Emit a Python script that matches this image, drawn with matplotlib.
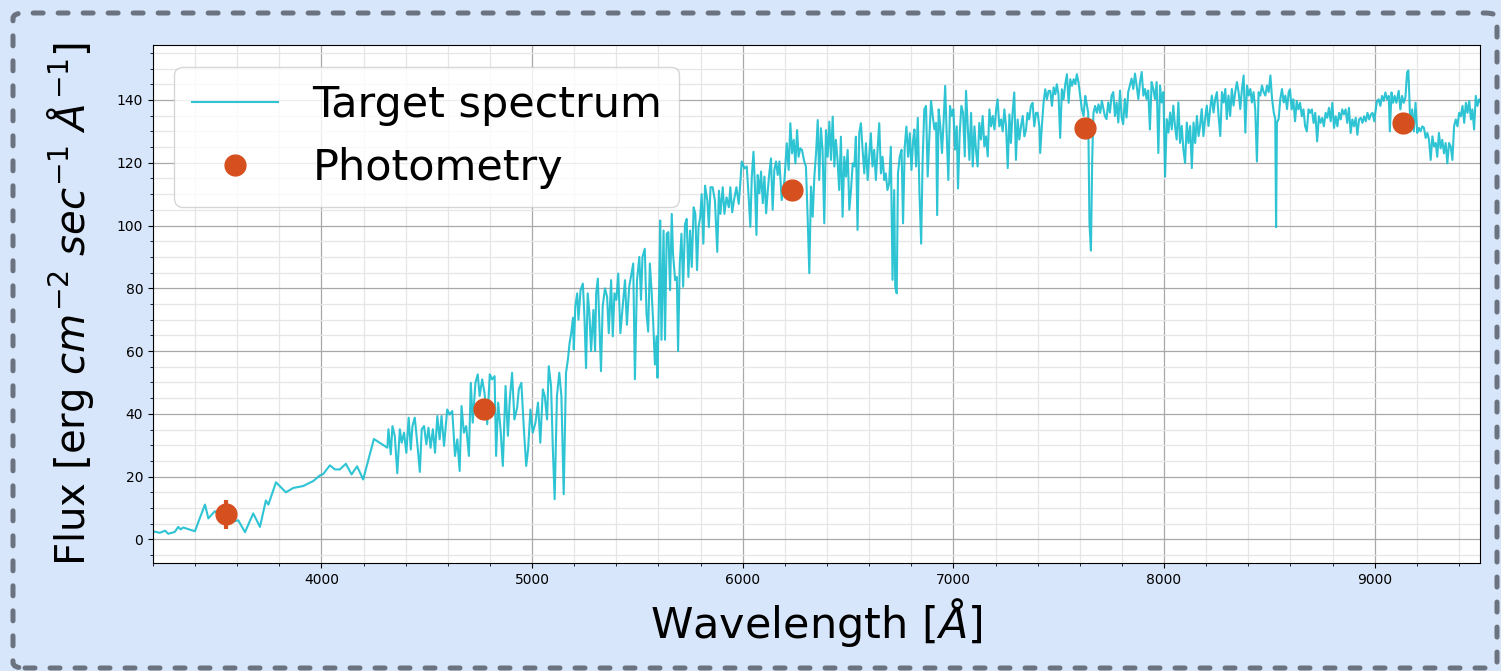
import matplotlib
matplotlib.use("Agg")
import matplotlib.pyplot as plt
from matplotlib.patches import FancyBboxPatch
from matplotlib.ticker import MultipleLocator
import numpy as np

# spectrum (wavelength in Angstrom, flux)
wave = [
    3200, 3233, 3257, 3273, 3304, 3320, 3331, 3344, 3399, 3447, 3463, 3494, 3530, 3570, 3605, 3637,
    3676, 3708, 3736, 3748, 3784, 3831, 3866, 3913, 3961, 3993, 4008, 4040, 4064, 4087, 4116, 4143,
    4169, 4198, 4249, 4313,
    4318, 4329, 4337, 4348, 4360, 4372, 4381, 4392, 4403, 4414, 4424, 4432, 4443, 4456, 4467, 4476,
    4487, 4498, 4508, 4518, 4529, 4539, 4550, 4561, 4570, 4582, 4597, 4608, 4621, 4634, 4645, 4656,
    4665, 4676, 4687, 4700, 4709, 4718, 4731, 4742, 4751, 4763, 4774, 4787, 4799, 4810, 4822, 4829,
    4839, 4850, 4861, 4874, 4885, 4894, 4905, 4916, 4929, 4937, 4949, 4961, 4972, 4981, 4992, 5003,
    5016, 5028, 5039, 5051, 5060, 5071, 5079, 5090, 5098, 5107, 5118, 5129, 5139, 5150, 5161,
    5170, 5178, 5186, 5194, 5198, 5205, 5214, 5220, 5230, 5241, 5249, 5256, 5264, 5272, 5280, 5291,
    5299, 5304, 5312, 5320, 5327, 5335, 5346, 5356, 5364, 5375, 5383, 5391, 5400, 5409, 5419, 5430,
    5441, 5450, 5461, 5469, 5480, 5488, 5498, 5509, 5517, 5524, 5535, 5543, 5551, 5559, 5567, 5575,
    5583, 5591, 5595, 5603, 5608, 5614, 5624, 5631, 5639, 5647, 5655, 5663, 5669, 5679, 5687, 5693,
    5701, 5709, 5717, 5726, 5734, 5742, 5750, 5758, 5767, 5775, 5783, 5790, 5798, 5805, 5813, 5821,
    5832, 5839, 5847, 5857, 5868, 5879, 5887, 5894, 5905, 5913, 5923, 5934, 5941, 5950, 5958, 5970,
    5981, 5989,
    5995, 6008, 6019, 6027, 6036, 6043, 6051, 6058, 6065, 6071, 6079, 6087, 6095, 6103, 6111, 6119,
    6126, 6134, 6142, 6150, 6158, 6166, 6174, 6185, 6198, 6209, 6218, 6226, 6234, 6242, 6250, 6258,
    6265, 6273, 6281, 6292, 6300, 6308, 6316, 6324, 6332, 6340, 6348, 6356, 6363, 6371, 6379, 6387,
    6395, 6403, 6411, 6419, 6427, 6435, 6442, 6450, 6458, 6466, 6474, 6482, 6490, 6498, 6506, 6514,
    6522, 6530, 6537, 6545, 6553, 6561, 6569, 6577, 6585, 6593, 6600, 6608, 6616, 6624, 6632, 6640,
    6648, 6656, 6664, 6672, 6679, 6687, 6695, 6703, 6711, 6719, 6724, 6731, 6737, 6745, 6754, 6761,
    6769, 6777, 6785, 6793, 6801, 6809,
    6815, 6823, 6831, 6839, 6847, 6854, 6862, 6870, 6878, 6886, 6894, 6902, 6910, 6918, 6923, 6930,
    6938, 6946, 6954, 6961, 6968, 6976, 6984, 6992, 7000, 7008, 7016, 7022, 7030, 7038, 7046, 7054,
    7060, 7068, 7076, 7084, 7092, 7100, 7107, 7115, 7123, 7131, 7139, 7147, 7155, 7163, 7171, 7179,
    7187, 7195, 7203, 7210, 7218, 7226, 7234, 7242, 7250, 7258, 7266, 7273, 7281, 7289, 7297, 7305,
    7313, 7321, 7329, 7337, 7345, 7352, 7360, 7368, 7376, 7384, 7392, 7400, 7408, 7412, 7420, 7428,
    7436, 7444, 7452, 7460, 7468, 7476, 7484, 7491, 7499, 7507, 7515, 7523, 7531, 7539, 7547, 7555,
    7563, 7571, 7579, 7586, 7594, 7602, 7610, 7618, 7626, 7632, 7640, 7646, 7653, 7659, 7665, 7673,
    7681, 7689, 7697, 7705, 7713,
    7719, 7727, 7735, 7743, 7751, 7759, 7767, 7775, 7783, 7791, 7799, 7806, 7814, 7822, 7830, 7838,
    7846, 7854, 7862, 7870, 7878, 7886, 7894, 7902, 7910, 7917, 7925, 7933, 7941, 7949, 7957, 7965,
    7973, 7981, 7989, 7997, 8005, 8013, 8021, 8029, 8037, 8044, 8052, 8060, 8068, 8076, 8084, 8092,
    8100, 8108, 8116, 8124, 8132, 8140, 8148, 8156, 8164, 8171, 8179, 8187, 8195, 8203, 8211, 8219,
    8227, 8235, 8243, 8251, 8259, 8267, 8275, 8283, 8291, 8298, 8306, 8314, 8322, 8330, 8338, 8346,
    8354, 8362, 8370, 8378, 8386, 8394, 8402, 8410, 8417, 8425, 8433, 8441, 8449, 8457, 8465, 8473,
    8481, 8489, 8497, 8505, 8513, 8521, 8528, 8532, 8536, 8544, 8552, 8560, 8568, 8576, 8584, 8592,
    8598, 8606, 8614, 8622, 8630, 8638, 8646, 8654, 8662, 8670, 8678, 8686, 8694, 8702, 8710, 8718,
    8727, 8735, 8743, 8751, 8759, 8767, 8775, 8783, 8791, 8799, 8807, 8815, 8823, 8831, 8839, 8846,
    8854, 8862, 8870, 8878, 8886, 8894, 8902, 8910, 8918, 8926, 8934, 8942, 8950, 8958, 8966, 8974,
    8982, 8990, 8998, 9003, 9011, 9019, 9027, 9035, 9043, 9051, 9059, 9067, 9072, 9080, 9087, 9095,
    9103, 9114, 9122, 9130, 9138, 9146, 9154, 9160, 9165, 9170, 9178, 9186, 9194, 9202, 9210, 9218,
    9226, 9234, 9242, 9250, 9258, 9266, 9274, 9282, 9290, 9297, 9305, 9313, 9321, 9329, 9337, 9345,
    9353, 9361, 9369, 9377, 9385, 9393, 9401, 9409, 9417, 9425, 9433, 9441, 9449, 9457, 9464, 9472,
    9480, 9488, 9496, 9504,
]
flux = [
    2.6, 2.1, 2.8, 1.8, 2.4, 4.0, 3.2, 3.8, 2.6, 11.1, 6.7, 9.0, 7.0, 5.5, 6.1, 2.3,
    8.3, 4.0, 12.4, 11.1, 18.2, 15.0, 16.4, 17.0, 18.6, 20.4, 20.8, 23.6, 22.3, 22.3, 24.1, 20.7,
    23.3, 19.1, 32.0, 29.2,
    35.1, 27.1, 36.1, 33.0, 21.1, 35.1, 30.8, 34.0, 27.6, 38.8, 28.6, 36.1, 38.8, 29.8, 21.5, 35.1,
    36.1, 30.3, 35.6, 29.2, 35.1, 27.6, 39.3, 31.9, 39.3, 29.8, 41.4, 39.8, 40.9, 26.6, 31.9, 21.8,
    42.5, 34.0, 36.1, 26.6, 49.9, 37.2, 49.9, 52.6, 45.7, 51.0, 46.7, 36.7, 52.6, 51.0, 52.0, 26.6,
    43.6, 35.1, 23.4, 48.9, 33.0, 44.6, 53.1, 38.2, 42.0, 47.8, 49.9, 35.1, 23.4, 28.7, 41.4, 34.0,
    37.2, 43.6, 30.8, 47.8, 45.7, 38.2, 55.2, 48.9, 29.8, 12.8, 45.7, 53.1, 45.7, 14.4, 53.1,
    57.3, 62.6, 65.8, 70.6, 60.5, 74.2, 78.4, 70.0, 79.4, 81.5, 69.9, 54.6, 78.4, 72.0, 60.0, 73.1,
    60.0, 78.4, 83.1, 67.8, 53.6, 74.2, 80.0, 77.3, 65.7, 82.6, 64.7, 78.4, 76.3, 84.7, 65.7, 74.2,
    82.6, 68.4, 80.5, 83.6, 87.9, 51.0, 82.6, 90.0, 76.3, 90.0, 92.6, 72.0, 66.2, 87.9, 79.4, 68.9,
    55.7, 64.7, 51.5, 79.4, 101.6, 63.6, 98.4, 63.6, 97.4, 97.9, 79.4, 103.7, 91.0, 82.6, 83.6, 60.0,
    87.9, 97.4, 80.5, 100.5, 102.1, 83.6, 98.4, 86.8, 105.8, 103.7, 85.8, 99.5, 102.6, 110.0, 94.2, 112.7,
    107.9, 99.5, 112.2, 112.2, 107.9, 91.6, 111.1, 103.7, 112.2, 103.7, 109.0, 105.8, 112.2, 104.2, 107.9, 112.2,
    106.9, 114.0,
    120.4, 118.2, 118.8, 110.3, 99.6, 115.6, 123.5, 112.4, 97.0, 116.1, 110.3, 117.2, 107.1, 115.6, 103.9, 111.3,
    116.6, 121.4, 105.0, 117.7, 120.4, 116.1, 120.4, 108.1, 114.5, 126.2, 117.7, 132.6, 123.0, 127.3, 119.8, 130.4,
    121.9, 124.6, 124.1, 120.4, 118.8, 102.8, 84.8, 112.4, 102.8, 115.6, 123.0, 133.6, 114.5, 131.0, 124.1, 100.7,
    130.4, 121.9, 133.1, 120.9, 134.7, 118.8, 127.3, 120.9, 111.3, 128.3, 102.8, 121.9, 115.6, 124.1, 105.0, 111.3,
    119.8, 118.8, 128.3, 98.6, 129.4, 132.6, 124.1, 116.6, 126.2, 114.5, 121.9, 129.4, 118.8, 124.1, 114.5, 124.1,
    132.6, 116.6, 121.9, 114.5, 116.6, 111.3, 113.4, 125.1, 82.7, 111.3, 80.5, 78.4, 116.6, 121.9, 124.1, 100.7,
    125.1, 131.5, 121.9, 129.4, 117.7, 127.3,
    130.6, 118.8, 134.3, 110.2, 94.2, 120.9, 137.0, 138.1, 115.6, 128.4, 139.7, 134.9, 130.6, 132.7, 103.3, 137.0,
    131.6, 123.1, 133.8, 144.5, 129.5, 114.5, 138.1, 134.9, 137.0, 124.2, 131.6, 111.8, 129.5, 138.1, 135.9, 122.0,
    142.9, 131.6, 120.9, 135.9, 118.8, 131.6, 124.2, 118.8, 132.7, 127.4, 134.9, 125.2, 128.4, 122.0, 137.0, 131.6,
    134.9, 130.6, 137.0, 140.2, 131.6, 133.8, 130.0, 137.0, 131.6, 118.3, 135.4, 126.3, 135.9, 142.4, 120.9, 133.8,
    127.4, 131.6, 134.9, 128.4, 130.6, 135.9, 133.8, 138.1, 139.1, 131.6, 135.9, 135.9, 131.6, 123.1, 131.6, 139.1,
    143.4, 140.2, 142.9, 142.9, 138.1, 144.0, 141.8, 145.0, 141.8, 127.9, 143.4, 140.2, 145.0, 148.2, 139.1, 146.6,
    144.5, 146.6, 145.0, 148.2, 145.6, 141.3, 137.0, 134.9, 141.3, 139.1, 135.9, 100.6, 92.0, 120.9, 135.9, 138.1,
    135.9, 138.6, 135.9, 139.7, 137.0,
    134.9, 133.9, 139.2, 136.0, 141.4, 142.5, 134.9, 139.2, 132.8, 143.0, 134.4, 132.3, 140.3, 134.4, 142.5, 144.6,
    146.8, 143.5, 148.4, 144.6, 140.3, 145.7, 148.9, 141.4, 143.5, 140.3, 143.0, 130.6, 145.7, 143.5, 140.3, 145.7,
    123.1, 144.6, 139.2, 142.5, 115.6, 133.9, 129.6, 136.0, 130.6, 138.2, 131.7, 127.4, 139.2, 126.3, 131.7, 124.2,
    119.9, 132.8, 126.3, 131.7, 118.3, 132.8, 126.3, 134.9, 128.5, 131.7, 137.1, 128.5, 133.9, 138.2, 131.7, 137.1,
    141.4, 136.0, 140.3, 142.5, 134.9, 128.5, 142.5, 139.2, 143.5, 133.9, 141.4, 134.9, 143.5, 138.2, 142.5, 145.7,
    142.5, 137.1, 143.5, 147.8, 129.6, 144.6, 141.4, 143.5, 139.2, 142.5, 137.1, 120.4, 142.5, 141.4, 144.6, 142.5,
    141.4, 144.6, 142.5, 147.8, 140.3, 136.0, 133.9, 99.5, 132.8, 133.9, 140.3, 143.5, 139.2, 141.4, 137.1, 142.5,
    143.4, 137.0, 140.2, 133.2, 139.7, 137.0, 139.1, 134.8, 137.0, 131.6, 130.0, 137.0, 135.9, 137.0, 132.7, 135.9,
    126.8, 134.8, 132.7, 134.3, 131.6, 135.9, 134.3, 137.5, 133.2, 139.1, 131.1, 134.8, 131.6, 135.9, 133.8, 137.0,
    135.4, 137.0, 132.7, 137.5, 129.5, 133.8, 131.6, 134.3, 128.9, 133.8, 134.3, 132.7, 134.8, 133.2, 135.9, 133.8,
    135.4, 135.9, 133.2, 135.9, 139.7, 140.2, 138.1, 141.3, 139.7, 142.4, 140.2, 141.3, 130.0, 142.4, 139.1, 141.3,
    139.1, 142.9, 137.0, 141.3, 139.1, 140.8, 148.8, 149.4, 140.2, 130.0, 137.0, 130.0, 139.1, 129.5, 131.1, 130.0,
    131.6, 131.1, 127.9, 129.5, 127.3, 120.9, 128.4, 125.2, 126.3, 121.9, 129.5, 124.6, 127.3, 123.0, 126.3, 119.8,
    126.3, 125.2, 120.9, 131.6, 133.8, 131.6, 135.9, 134.8, 138.1, 132.7, 139.1, 135.9, 139.7, 133.8, 137.0, 130.6,
    141.3, 138.1, 140.2, 139.1,
]

# photometry (SDSS u g r i z)
phot_wave = [3546, 4771, 6233, 7623, 9133]
phot_flux = [8.0, 41.7, 111.4, 131.1, 132.7]
phot_err = [4.6, 1.5, 1.2, 1.2, 1.5]

fig = plt.figure(figsize=(15.01, 6.71), dpi=100, facecolor="#d7e6fa")
ax = fig.add_axes([0.1019, 0.161, 0.8841, 0.7719])

ax.plot(wave, flux, color="#17becf", alpha=0.9, lw=1.5, label="Target spectrum")
ax.errorbar(phot_wave, phot_flux, yerr=phot_err, fmt="none", ecolor="#d6501f",
            elinewidth=3, capsize=0, zorder=3)
ax.plot(phot_wave, phot_flux, "o", color="#d6501f", ms=15, label="Photometry", zorder=4)

ax.set_xlim(3200, 9500)
ax.set_ylim(-7.5, 157.5)
ax.xaxis.set_major_locator(MultipleLocator(1000))
ax.xaxis.set_minor_locator(MultipleLocator(200))
ax.yaxis.set_major_locator(MultipleLocator(20))
ax.yaxis.set_minor_locator(MultipleLocator(5))
ax.grid(True, which="major", color="#a8a8a8", lw=0.9)
ax.grid(True, which="minor", color="#e6e6e6", lw=0.9)
ax.set_axisbelow(True)
ax.tick_params(labelsize=10)

ax.set_xlabel(r"Wavelength [$\AA$]", fontsize=31, labelpad=7)
ax.set_ylabel(r"Flux [erg $cm^{-2}$ $sec^{-1}$ $\AA^{-1}$]", fontsize=29, labelpad=15)
ax.legend(loc="upper left", fontsize=31)

# dashed rounded frame round the whole figure
frame = FancyBboxPatch((13 / 1501, 3 / 671), 1484 / 1501, 655 / 671,
                       boxstyle="round,pad=0,rounding_size=0.008",
                       transform=fig.transFigure, fill=False,
                       edgecolor="#6b7280", lw=3.6, linestyle=(0, (2, 3)),
                       capstyle="round", clip_on=False)
fig.patches.append(frame)

fig.savefig("out.png", dpi=100, facecolor=fig.get_facecolor())
